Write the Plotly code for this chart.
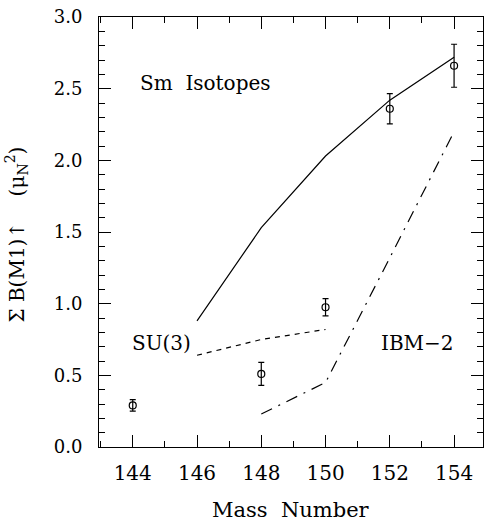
import plotly.graph_objects as go

# Data
mass_exp = [144, 148, 150, 152, 154]
bm1_exp = [0.29, 0.51, 0.975, 2.36, 2.66]
bm1_err = [0.04, 0.08, 0.06, 0.105, 0.15]

mass_calc = [146, 148, 150, 152, 154]
bm1_calc = [0.88, 1.53, 2.03, 2.42, 2.72]

mass_su3 = [146, 148, 150]
bm1_su3 = [0.64, 0.75, 0.82]

mass_ibm = [148, 150, 152, 154]
bm1_ibm = [0.23, 0.45, 1.32, 2.20]

x_ticks = [144, 146, 148, 150, 152, 154]
y_ticks = [0, 0.5, 1.0, 1.5, 2.0, 2.5, 3.0]
y_ticktext = ["0.0", "0.5", "1.0", "1.5", "2.0", "2.5", "3.0"]

FONT = "DejaVu Serif"
XR = [142.95, 154.9]
YR = [0, 3.0]

fig = go.Figure()
fig.add_trace(go.Scatter(x=mass_calc, y=bm1_calc, mode="lines",
                         line=dict(color="black", width=1.2), showlegend=False))
fig.add_trace(go.Scatter(x=mass_su3, y=bm1_su3, mode="lines",
                         line=dict(color="black", width=1.2, dash="5px,5px"), showlegend=False))
fig.add_trace(go.Scatter(x=mass_ibm, y=bm1_ibm, mode="lines",
                         line=dict(color="black", width=1.2, dash="12px,7px,2px,7px"), showlegend=False))
fig.add_trace(go.Scatter(x=mass_exp, y=bm1_exp, mode="markers",
                         marker=dict(symbol="circle-open", size=7, color="black", line=dict(width=1.2)),
                         error_y=dict(type="data", array=bm1_err, color="black", thickness=1.2, width=3),
                         showlegend=False))

ann_font = dict(family=FONT, size=20, color="black")
fig.add_annotation(x=144.16, y=2.54, text="Sm  Isotopes", showarrow=False, xanchor="left", yanchor="middle", font=ann_font)
fig.add_annotation(x=143.92, y=0.726, text="SU(3)", showarrow=False, xanchor="left", yanchor="middle", font=ann_font)
fig.add_annotation(x=151.66, y=0.726, text="IBM\u22122", showarrow=False, xanchor="left", yanchor="middle", font=ann_font)

# axis titles
fig.add_annotation(xref="paper", yref="paper", x=0.5, y=-0.146, yanchor="middle",
                   text="Mass  Number", showarrow=False, font=dict(family=FONT, size=21, color="black"))
fig.add_annotation(xref="paper", yref="paper", x=-0.215, xanchor="center", y=0.495, yanchor="middle",
                   textangle=-90,
                   text="\u03a3 B(M1)\u2191    (\u03bc<sub>N</sub><sup>2</sup>)",
                   showarrow=False, font=dict(family=FONT, size=20, color="black"))

common = dict(ticks="inside", ticklen=12, tickwidth=1, tickcolor="black",
              showline=True, linecolor="black", linewidth=1, mirror="ticks",
              showgrid=False, zeroline=False, automargin=False)

fig.update_layout(
    width=486, height=520,
    margin=dict(l=99, r=3, t=17, b=73),
    paper_bgcolor="white", plot_bgcolor="white",
    font=dict(family=FONT, color="black"),
    xaxis=dict(range=XR, tickvals=x_ticks,
               minor=dict(ticks="inside", ticklen=6, dtick=1, tickcolor="black", showgrid=False),
               tickfont=dict(family=FONT, size=20), ticklabelstandoff=8, **common),
    yaxis=dict(range=YR, tickvals=y_ticks, ticktext=y_ticktext,
               minor=dict(ticks="inside", ticklen=6, dtick=0.1, tickcolor="black", showgrid=False),
               tickfont=dict(family=FONT, size=18), ticklabelstandoff=12, **common),
)

fig.write_html("out.html", config={"displayModeBar": False},
               post_script=("document.documentElement.style.overflow='hidden';"
                            "document.body.style.overflow='hidden';"
                            "document.body.style.margin='0';document.body.style.padding='0';"))
